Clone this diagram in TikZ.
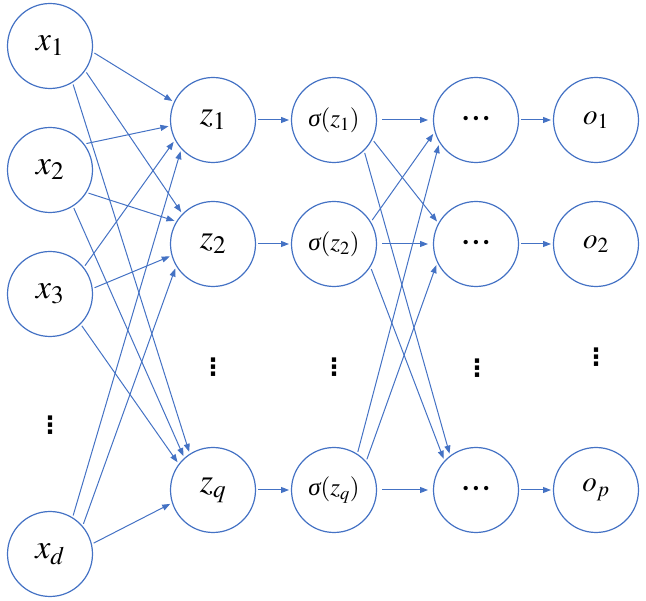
\documentclass[tikz,border=0pt]{standalone}
\usepackage{mathptmx}
\usepackage{fontspec}
\setmainfont{Liberation Serif}
\newfontfamily\dejavu{DejaVu Sans}
\usetikzlibrary{arrows.meta}
\definecolor{nnblue}{HTML}{4472C4}
\newcommand{\sig}{\mbox{\itshape σ}}
\newcommand{\hdots}{{\fontsize{18}{20}\selectfont •\kern4pt•\kern4pt•}}
\newcommand{\vdts}{{\dejavu\bfseries ⋮}}
\tikzset{
 neuron/.style={circle, draw=nnblue, line width=1.2pt, minimum size=85pt, inner sep=0pt, outer sep=2.5pt},
 bigtxt/.style={font=\fontsize{34}{38}\selectfont},
 smalltxt/.style={font=\fontsize{25}{28}\selectfont},
 outtxt/.style={font=\fontsize{29}{32}\selectfont},
 vdtxt/.style={font=\fontsize{24}{26}\selectfont, inner sep=0pt},
 conn/.style={draw=nnblue, line width=1pt, -{Triangle[length=8pt,width=6pt]}},
 hconn/.style={conn, shorten <=3pt, shorten >=3pt},
}
\begin{document}
\begin{tikzpicture}[x=1pt,y=-1pt]
\useasboundingbox (0,0) rectangle (646,601);
% input layer
\node[neuron,bigtxt] (x1) at (50,46) {$x_1$};
\node[neuron,bigtxt] (x2) at (50,170) {$x_2$};
\node[neuron,bigtxt] (x3) at (50,294) {$x_3$};
\node[vdtxt] (xv) at (50,425) {\vdts};
\node[neuron,bigtxt] (xd) at (50,554) {$x_d$};
% hidden z
\node[neuron,bigtxt] (z1) at (213,120) {$z_1$};
\node[neuron,bigtxt] (z2) at (213,244) {$z_2$};
\node[vdtxt] (zv) at (213,367) {\vdts};
\node[neuron,bigtxt] (zq) at (213,490) {$z_q$};
% sigma
\node[neuron,smalltxt] (s1) at (334,120) {$\sig(z_1)$};
\node[neuron,smalltxt] (s2) at (334,244) {$\sig(z_2)$};
\node[vdtxt] (sv) at (334,367) {\vdts};
\node[neuron,smalltxt] (sq) at (334,490) {$\sig(z_q)$};
% dots layer
\node[neuron] (h1) at (476,120) {\hdots};
\node[neuron] (h2) at (476,244) {\hdots};
\node[vdtxt] (hv) at (477,368) {\vdts};
\node[neuron] (hq) at (476,490) {\hdots};
% output
\node[neuron,outtxt] (o1) at (596,120) {$o_1$};
\node[neuron,outtxt] (o2) at (596,244) {$o_2$};
\node[vdtxt] (ov) at (596,357) {\vdts};
\node[neuron,outtxt] (op) at (596,490) {$o_p$};
% x -> z
\draw[conn] (x1.-9) -- (z1.155);
\draw[conn] (x1.-36) -- (z2.135);
\draw[conn] (x1.-59) -- (zq.122);
\draw[conn] (x2.36) -- (z1.-172);
\draw[conn] (x2.-31) -- (z2.149);
\draw[conn] (x2.-58) -- (zq.131);
\draw[conn] (x3.39) -- (z1.-151);
\draw[conn] (x3.8) -- (z2.-164);
\draw[conn] (x3.-45) -- (zq.142);
\draw[conn] (xd.59) -- (z1.-136);
\draw[conn] (xd.42) -- (z2.-147);
\draw[conn] (xd.14) -- (zq.-162);
% z -> sigma
\draw[conn] (z1.east) -- (s1.west);
\draw[conn] (z2.east) -- (s2.west);
\draw[conn] (zq.east) -- (sq.west);
% sigma -> dots
\draw[hconn] (s1.east) -- (h1.west);
\draw[hconn] (s2.east) -- (h2.west);
\draw[hconn] (sq.east) -- (hq.west);
\draw[conn] (s1.-28) -- (h2.150);
\draw[conn] (s1.-47) -- (hq.126);
\draw[conn] (s2.32) -- (h1.-162);
\draw[conn] (s2.-34) -- (hq.136);
\draw[conn] (sq.58) -- (h1.-146);
\draw[conn] (sq.43) -- (h2.-152);
% dots -> output
\draw[conn] (h1.east) -- (o1.west);
\draw[conn] (h2.east) -- (o2.west);
\draw[conn] (hq.east) -- (op.west);
\end{tikzpicture}
\end{document}
